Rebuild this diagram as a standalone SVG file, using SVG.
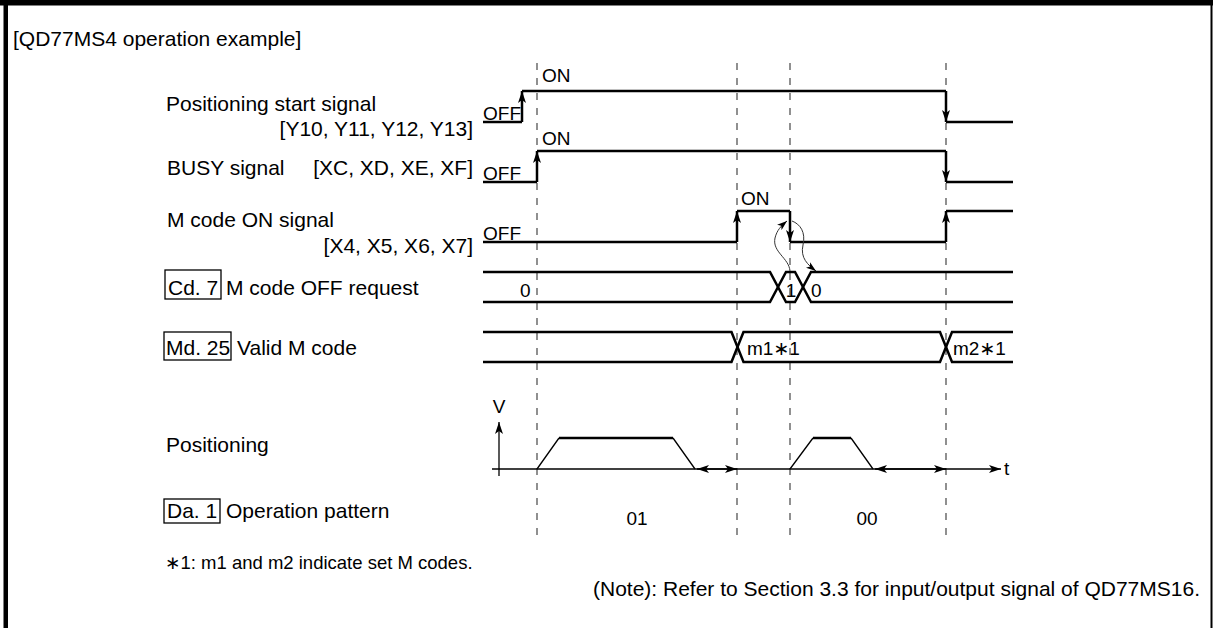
<svg xmlns="http://www.w3.org/2000/svg" width="1214" height="628" viewBox="0 0 1214 628">
<defs>
<style>
text{font-family:"Liberation Sans","DejaVu Sans",Arial,sans-serif;fill:#000}
.lbl{font-size:21px}
.sm{font-size:19px}
.fn{font-size:18.5px}
.sig{fill:none;stroke:#000;stroke-width:2.5;stroke-linejoin:miter}
.edge{fill:none;stroke:#000;stroke-width:2.5}
.thin{fill:none;stroke:#000;stroke-width:1.3}
.curve{fill:none;stroke:#333;stroke-width:1}
.dash{fill:none;stroke:#555;stroke-width:1.3;stroke-dasharray:7 8}
.box{fill:none;stroke:#000;stroke-width:1.3}
</style>
<marker id="ah" viewBox="0 0 12 8" refX="12" refY="4" markerWidth="12" markerHeight="8" orient="auto" markerUnits="userSpaceOnUse"><path d="M0,0 L12,4 L0,8 L3,4 z" fill="#000"/></marker>
<marker id="ahs" viewBox="0 0 12 8" refX="0" refY="4" markerWidth="12" markerHeight="8" orient="auto" markerUnits="userSpaceOnUse"><path d="M12,0 L0,4 L12,8 L9,4 z" fill="#000"/></marker>
<marker id="ac" viewBox="0 0 10 7" refX="10" refY="3.5" markerWidth="10" markerHeight="7" orient="auto" markerUnits="userSpaceOnUse"><path d="M0,0 L10,3.5 L0,7 L2.5,3.5 z" fill="#000"/></marker>
</defs>
<rect width="1214" height="628" fill="#fff"/>
<g id="frame">
<rect x="0" y="0" width="1213" height="5.5" fill="#000"/>
<rect x="3.5" y="0" width="4.5" height="628" fill="#000"/>
<rect x="1210.5" y="0" width="2" height="628" fill="#000"/>
</g>
<g id="title"><text class="lbl" x="13" y="46">[QD77MS4 operation example]</text></g>

<g id="guides">
<line class="dash" x1="537" y1="63" x2="537" y2="543"/>
<line class="dash" x1="737" y1="63" x2="737" y2="543"/>
<line class="dash" x1="790" y1="63" x2="790" y2="543"/>
<line class="dash" x1="946" y1="63" x2="946" y2="543"/>
</g>

<g id="row-start">
<text class="lbl" x="166" y="111">Positioning start signal</text>
<text class="lbl" x="473" y="136" text-anchor="end">[Y10, Y11, Y12, Y13]</text>
<text class="sm" x="483" y="120">OFF</text>
<text class="sm" x="542" y="82">ON</text>
</g>
<g id="row-busy">
<text class="lbl" x="167" y="175">BUSY signal</text>
<text class="lbl" x="473" y="175" text-anchor="end">[XC, XD, XE, XF]</text>
<text class="sm" x="483" y="180">OFF</text>
<text class="sm" x="542" y="145">ON</text>
</g>
<g id="row-mcode-on">
<text class="lbl" x="167" y="227">M code ON signal</text>
<text class="lbl" x="473" y="253" text-anchor="end">[X4, X5, X6, X7]</text>
<text class="sm" x="483" y="240">OFF</text>
<text class="sm" x="741" y="205">ON</text>
</g>
<g id="row-cd7">
<rect class="box" x="165" y="270" width="56" height="29"/>
<text class="lbl" x="168" y="295">Cd. 7</text>
<text class="lbl" x="226" y="295">M code OFF request</text>
<text class="sm" x="520" y="297">0</text>
<text class="sm" x="791" y="297" text-anchor="middle">1</text>
<text class="sm" x="811" y="297">0</text>
</g>
<g id="row-md25">
<rect class="box" x="164" y="332" width="67" height="28"/>
<text class="lbl" x="166" y="355">Md. 25</text>
<text class="lbl" x="237" y="355">Valid M code</text>
<text class="sm" x="747" y="355">m1∗1</text>
<text class="sm" x="953" y="355">m2∗1</text>
</g>
<g id="row-positioning">
<text class="lbl" x="166" y="452">Positioning</text>
<text class="sm" x="499" y="413" text-anchor="middle">V</text>
<text class="sm" x="1004" y="475">t</text>
</g>
<g id="row-da1">
<rect class="box" x="164" y="499" width="56" height="24"/>
<text class="lbl" x="167" y="518">Da. 1</text>
<text class="lbl" x="226" y="518">Operation pattern</text>
<text class="sm" x="637" y="525" text-anchor="middle">01</text>
<text class="sm" x="867" y="525" text-anchor="middle">00</text>
</g>
<g id="notes">
<text class="fn" x="165" y="569">∗1: m1 and m2 indicate set M codes.</text>
<text class="lbl" x="1200" y="596" text-anchor="end">(Note): Refer to Section 3.3 for input/output signal of QD77MS16.</text>
</g>

<g id="connectors">
<path class="sig" d="M483,122 H522 M522,91 H946 M946,122 H1013"/>
<line class="edge" x1="522" y1="122" x2="522" y2="91" marker-end="url(#ah)"/>
<line class="edge" x1="946" y1="91" x2="946" y2="122" marker-end="url(#ah)"/>
<path class="sig" d="M483,182 H537 M537,151 H946 M946,182 H1013"/>
<line class="edge" x1="537" y1="182" x2="537" y2="151" marker-end="url(#ah)"/>
<line class="edge" x1="946" y1="151" x2="946" y2="182" marker-end="url(#ah)"/>
<path class="sig" d="M483,242 H737 M737,211 H790 M790,242 H946 M946,211 H1013"/>
<line class="edge" x1="737" y1="242" x2="737" y2="211" marker-end="url(#ah)"/>
<line class="edge" x1="790" y1="211" x2="790" y2="242" marker-end="url(#ah)"/>
<line class="edge" x1="946" y1="242" x2="946" y2="211" marker-end="url(#ah)"/>
<path class="sig" d="M483,272 H770 L786,302 H795 L811,272 H1013"/>
<path class="sig" d="M483,302 H770 L786,272 H795 L811,302 H1013"/>
<path class="sig" d="M483,332 H731.5 L743.5,362 H940 L952,332 H1013"/>
<path class="sig" d="M483,362 H731.5 L743.5,332 H940 L952,362 H1013"/>
<path class="curve" d="M790,271 C789,258 772,252 775,238 C777,230 781,226 787,221" marker-end="url(#ac)"/>
<path class="curve" d="M792,221 C800,224 806,232 803,245 C800,258 808,265 816,271" marker-end="url(#ac)"/>
<line class="thin" x1="492" y1="469" x2="1001" y2="469" marker-end="url(#ah)"/>
<line class="thin" x1="499" y1="476" x2="499" y2="422" marker-end="url(#ah)"/>
<path class="thin" d="M537,469 L559,438 M673,438 L695,469 M790,469 L813,438 M851,438 L873,469"/>
<path class="sig" d="M559,438 H673 M813,438 H851"/>
<line class="thin" x1="697" y1="469" x2="737" y2="469" marker-start="url(#ahs)" marker-end="url(#ah)"/>
<line class="thin" x1="875" y1="469" x2="946" y2="469" marker-start="url(#ahs)" marker-end="url(#ah)"/>
</g>
</svg>
